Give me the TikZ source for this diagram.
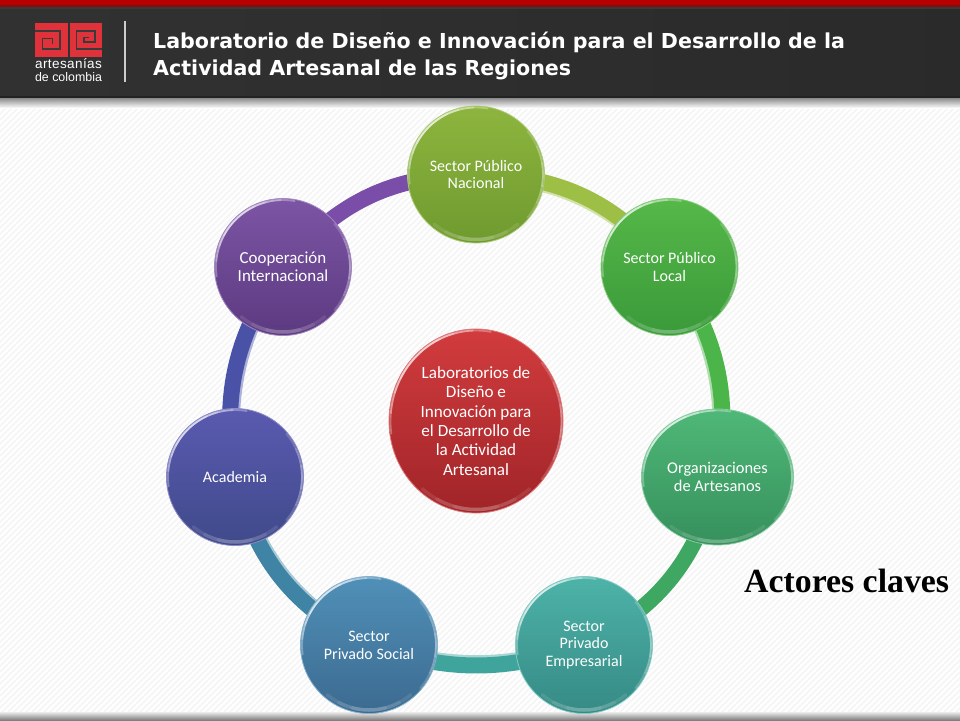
\documentclass[tikz,border=0pt]{standalone}
\usepackage{fontspec}
\usetikzlibrary{shapes.geometric,backgrounds,calc}
\setmainfont{Carlito}
\newfontfamily\titlefont{DejaVu Sans}
\newfontfamily\logofonta[LetterSpace=3]{Liberation Sans}
\newfontfamily\logofontb{Liberation Sans}
\newfontfamily\actfont{Liberation Serif}
\definecolor{cNac}{HTML}{8DB53E}\definecolor{dNac}{HTML}{6F9A2F}\definecolor{aNac}{HTML}{9DBF45}
\definecolor{cLoc}{HTML}{55B848}\definecolor{dLoc}{HTML}{3A9A3A}\definecolor{aLoc}{HTML}{4CB54A}
\definecolor{cOrg}{HTML}{4FB878}\definecolor{dOrg}{HTML}{36905C}\definecolor{aOrg}{HTML}{3EA862}
\definecolor{cEmp}{HTML}{4DB3A8}\definecolor{dEmp}{HTML}{368A85}\definecolor{aEmp}{HTML}{3FA59C}
\definecolor{cSoc}{HTML}{5090B8}\definecolor{dSoc}{HTML}{3C6A90}\definecolor{aSoc}{HTML}{3F84A5}
\definecolor{cAca}{HTML}{5A5AB0}\definecolor{dAca}{HTML}{404A8A}\definecolor{aAca}{HTML}{4A52A8}
\definecolor{cCoo}{HTML}{7C55A5}\definecolor{dCoo}{HTML}{5C3A80}\definecolor{aCoo}{HTML}{7A4DA8}
\definecolor{cRed}{HTML}{D23C3E}\definecolor{dRed}{HTML}{A02428}
\definecolor{logored}{HTML}{E0323A}
\definecolor{hdr}{HTML}{3A3A3A}
\tikzset{
  ball/.style n args={3}{ellipse,inner sep=0pt,minimum width=137pt,minimum height=137pt,
    top color=#1,bottom color=#2,draw=#3,line width=.8pt,text=white,align=center,
    font=\fontsize{16}{17.8}\selectfont},
  band/.style={line width=16pt,line cap=butt},
  bandlight/.style={line width=16.5pt,line cap=butt},
  rim/.style={white,opacity=.3,line width=1.8pt,line cap=round},
  glow/.style={white,opacity=.1,line width=3.5pt,line cap=round},
  spiral/.style={hdr,line width=1.9pt,line join=miter},
  titletext/.style={anchor=base west,text=white,inner sep=0pt,font=\titlefont\bfseries\fontsize{20.6}{24}\selectfont},
  logotext/.style={anchor=base,text=white,inner sep=0pt}
}
\begin{document}
\begin{tikzpicture}[x=1pt,y=-1pt]
\path[use as bounding box] (0,0) rectangle (960,720);

% nodes
\node[ball={cNac}{dNac}{cNac!70!white}] (nac) at (476,174.5) {Sector Público\\Nacional};
\node[ball={cLoc}{dLoc}{cLoc!70!white}] (loc) at (669.5,267) {Sector Público\\Local};
\node[ball={cOrg}{dOrg}{cOrg!70!white},minimum width=152pt,minimum height=136pt,font=\fontsize{16.4}{17.8}\selectfont] (org) at (717.5,477) {Organizaciones\\de Artesanos};
\node[ball={cEmp}{dEmp}{cEmp!70!white}] (emp) at (584,645) {Sector\\Privado\\Empresarial};
\node[ball={cSoc}{dSoc}{cSoc!70!white}] (soc) at (369,645) {Sector\\Privado Social};
\node[ball={cAca}{dAca}{cAca!70!white}] (aca) at (235,477) {Academia};
\node[ball={cCoo}{dCoo}{cCoo!70!white},font=\fontsize{16.9}{18.4}\selectfont] (coo) at (283,267) {Cooperación\\Internacional};
\node[ball={cRed}{dRed}{cRed!70!white},minimum width=174pt,minimum height=184pt,font=\fontsize{17.1}{19.4}\selectfont] (red) at (476,421) {Laboratorios de\\Diseño e\\Innovación para\\el Desarrollo de\\la Actividad\\Artesanal};

% highlights on the balls: nested arcs taper towards their ends
\foreach \n/\rx/\ry in {nac/67/67,loc/67/67,org/74.5/66.5,emp/67/67,soc/67/67,aca/67/67,coo/67/67,red/85.5/90.5}{
  \foreach \a/\b in {-172/-280,-185/-268,-198/-255,-208/-245}{
    \draw[rim] (\n.center) ++(\a:\rx pt and \ry pt) arc[start angle=\a,end angle=\b,x radius=\rx pt,y radius=\ry pt];
  }
  \foreach \a/\b in {40/-40,25/-25,10/-10}{
    \draw[rim,opacity=.18] (\n.center) ++(\a:\rx pt and \ry pt) arc[start angle=\a,end angle=\b,x radius=\rx pt,y radius=\ry pt];
  }
  \foreach \a/\b in {-50/-130,-62/-118,-75/-105}{
    \draw[glow] (\n.center) ++(\a:\rx pt-2pt and \ry pt-2pt) arc[start angle=\a,end angle=\b,x radius=\rx pt-2pt,y radius=\ry pt-2pt];
  }
}

\begin{scope}[on background layer]
  % page
  \fill[white] (0,0) rectangle (960,720);
  \begin{scope}
    \clip (0,97) rectangle (960,720);
    \foreach \i in {0,6,...,1680}{
      \draw[black!4,line width=1.6pt] (\i,0) -- (\i-720,720);
    }
  \end{scope}
  % connectors
  \draw[bandlight,aNac!45!white] (nac.center) to[bend left=23] (loc.center);
  \draw[band,aNac] (nac.center) to[bend left=25] (loc.center);
  \draw[bandlight,aLoc!45!white] (loc.center) to[bend left=20] (org.center);
  \draw[band,aLoc] (loc.center) to[bend left=22] (org.center);
  \draw[band,aOrg] (org.center) to[bend left=25] (emp.center);
  \draw[bandlight,aEmp!45!white] (emp.center) to[bend left=17] (soc.center);
  \draw[band,aEmp] (emp.center) to[bend left=19] (soc.center);
  \draw[bandlight,aSoc!45!white] (soc.center) to[bend left=23] (aca.center);
  \draw[band,aSoc] (soc.center) to[bend left=25] (aca.center);
  \draw[bandlight,aAca!45!white] (aca.center) to[bend left=20] (coo.center);
  \draw[band,aAca] (aca.center) to[bend left=22] (coo.center);
  \draw[band,aCoo] (coo.center) to[bend left=25] (nac.center);
  % header shadow and footer
  \shade[top color=black!55,bottom color=white,opacity=.9] (0,97) rectangle (960,108);
  \shade[top color=black!8,bottom color=black!50] (0,712) rectangle (960,720);
  % header
  \fill[left color=hdr!85!black,right color=hdr!108!white] (0,6) rectangle (960,97);
  \fill[hdr!60!black] (0,96) rectangle (960,97.5);
  \shade[top color=red!60!black,bottom color=hdr] (0,4) rectangle (960,8);
  \fill[red!72!black] (0,0) rectangle (960,4.5);
\end{scope}

% logo
\fill[logored] (35,23) rectangle (67.5,56.5);
\fill[logored] (69.5,23) rectangle (102,56.5);
\draw[spiral] (35,31) -- (60,31) -- (60,49) -- (42.5,49) -- (42.5,38.5) -- (52.5,38.5) -- (52.5,44);
\draw[spiral] (102,49) -- (76.5,49) -- (76.5,31) -- (95,31) -- (95,42) -- (84,42) -- (84,37.5) -- (89,37.5);
\node[logotext,font=\logofonta\fontsize{13.5}{15}\selectfont] (logoa) at (68.5,68.5) {artesanías};
\node[logotext,font=\logofontb\fontsize{12.4}{14}\selectfont] (logob) at (68.5,81) {de colombia};
\draw[white!80!black,line width=1.3pt] (125,21) -- (125,82);

% title
\node[titletext] (t1) at (153,48) {Laboratorio de Diseño e Innovación para el Desarrollo de la};
\node[titletext] (t2) at (153,75) {Actividad Artesanal de las Regiones};

\node[anchor=base west,inner sep=0pt,font=\actfont\bfseries\fontsize{33.8}{38}\selectfont] (act) at (744,592) {Actores claves};
\end{tikzpicture}
\end{document}
